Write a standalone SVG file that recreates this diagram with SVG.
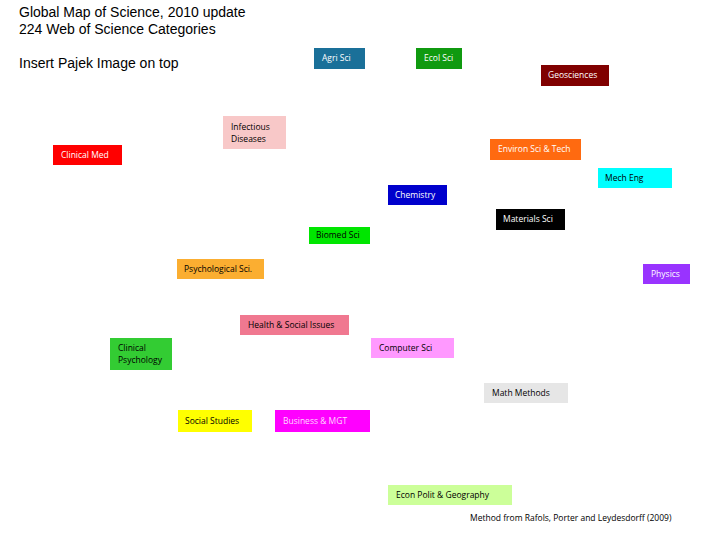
<svg xmlns="http://www.w3.org/2000/svg" width="720" height="540" viewBox="0 0 720 540">
<style>
.t{font-family:"Liberation Sans",Arial,sans-serif;font-size:14px;fill:#000}
.n{font-family:"Open Sans","Liberation Sans",sans-serif;font-size:8.5px;fill:#000}
.w{fill:#fff}
</style>
<rect width="720" height="540" fill="#fff"/>
<text class="t" x="19" y="17">Global Map of Science, 2010 update</text>
<text class="t" x="19" y="34">224 Web of Science Categories</text>
<text class="t" x="19" y="68">Insert Pajek Image on top</text>
<g id="connectors"></g>
<g id="agri"><rect x="314" y="48" width="51" height="21" fill="#1A7099"/><text class="n w" x="322" y="61">Agri Sci</text></g>
<g id="ecol"><rect x="416" y="48" width="46" height="21" fill="#109A10"/><text class="n w" x="424" y="61">Ecol Sci</text></g>
<g id="geo"><rect x="541" y="65" width="68" height="21" fill="#800000"/><text class="n w" x="548" y="78">Geosciences</text></g>
<g id="infect"><rect x="223" y="116" width="63" height="33" fill="#F8C8C8"/><text class="n" x="231" y="130">Infectious</text><text class="n" x="231" y="142">Diseases</text></g>
<g id="clinmed"><rect x="53" y="145" width="69" height="20" fill="#FF0000"/><text class="n w" x="61" y="158">Clinical Med</text></g>
<g id="environ"><rect x="490" y="139" width="91" height="21" fill="#FF6A10"/><text class="n w" x="498" y="152">Environ Sci &amp; Tech</text></g>
<g id="mech"><rect x="598" y="168" width="74" height="20" fill="#00FFFF"/><text class="n" x="605" y="181">Mech Eng</text></g>
<g id="chem"><rect x="388" y="185" width="59" height="20" fill="#0000CC"/><text class="n w" x="395" y="198">Chemistry</text></g>
<g id="mat"><rect x="496" y="209" width="69" height="21" fill="#000000"/><text class="n w" x="503" y="222">Materials Sci</text></g>
<g id="biomed"><rect x="309" y="227" width="61" height="17" fill="#00E600"/><text class="n" x="316" y="238">Biomed Sci</text></g>
<g id="psych"><rect x="177" y="259" width="87" height="20" fill="#FBAE31"/><text class="n" x="184" y="272">Psychological Sci.</text></g>
<g id="physics"><rect x="643" y="264" width="47" height="20" fill="#9933FF"/><text class="n w" x="651" y="277">Physics</text></g>
<g id="health"><rect x="240" y="315" width="109" height="20" fill="#F07890"/><text class="n" x="248" y="328">Health &amp; Social Issues</text></g>
<g id="clinpsy"><rect x="110" y="338" width="62" height="32" fill="#33CC33"/><text class="n" x="118" y="351">Clinical</text><text class="n" x="118" y="363">Psychology</text></g>
<g id="comp"><rect x="371" y="338" width="83" height="20" fill="#FF99FF"/><text class="n" x="379" y="351">Computer Sci</text></g>
<g id="math"><rect x="484" y="383" width="84" height="20" fill="#E6E6E6"/><text class="n" x="492" y="396">Math Methods</text></g>
<g id="social"><rect x="178" y="410" width="74" height="22" fill="#FFFF00"/><text class="n" x="185" y="424">Social Studies</text></g>
<g id="bus"><rect x="275" y="410" width="95" height="22" fill="#FF00FF"/><text class="n" x="283" y="424" fill="#FFD0FF" style="fill:#FFD8FF">Business &amp; MGT</text></g>
<g id="econ"><rect x="388" y="485" width="124" height="20" fill="#CCFF99"/><text class="n" x="396" y="498">Econ Polit &amp; Geography</text></g>
<text class="n" x="470" y="521">Method from Rafols, Porter and Leydesdorff (2009)</text>
</svg>
